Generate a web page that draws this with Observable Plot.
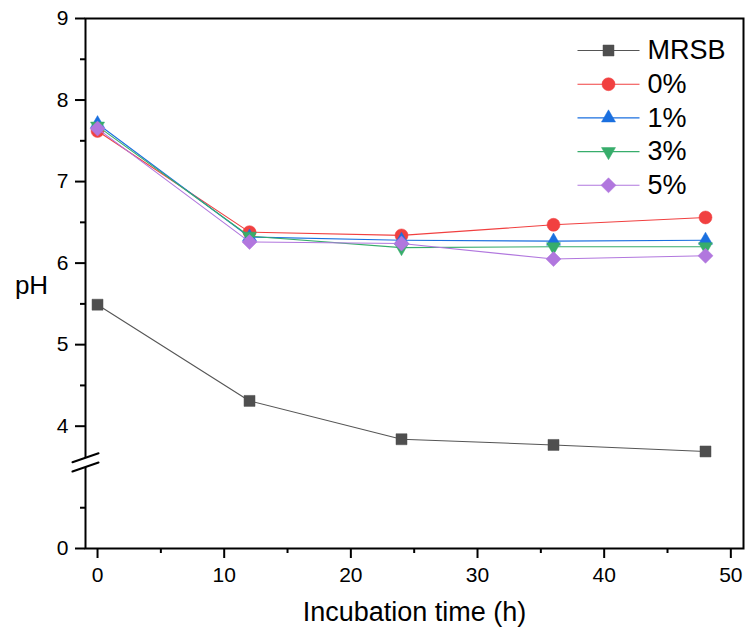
<!DOCTYPE html>
<html><head><meta charset="utf-8">
<script src="https://cdn.jsdelivr.net/npm/d3@7"></script>
<script src="https://cdn.jsdelivr.net/npm/@observablehq/plot@0.6"></script>
<style>body{margin:0;background:#fff}</style>
</head><body><div id="chart"></div>
<script>
// ---- data ----
const hours = [0, 12, 24, 36, 48];
const seriesNames = ["MRSB", "0%", "1%", "3%", "5%"];
const phMRSB = [5.49, 4.31, 3.84, 3.77, 3.69];
const ph0 = [7.62, 6.38, 6.34, 6.47, 6.56];
const ph1 = [7.71, 6.32, 6.28, 6.27, 6.28];
const ph3 = [7.68, 6.33, 6.19, 6.20, 6.20];
const ph5 = [7.65, 6.26, 6.24, 6.05, 6.09];
const xMajorTicks = [0, 10, 20, 30, 40, 50];
const xMinorTicks = [5, 15, 25, 35, 45];
const yMajorTicks = [0, 4, 5, 6, 7, 8, 9];
const yMinorTicks = [0.5, 4.5, 5.5, 6.5, 7.5, 8.5];

// ---- styling ----
const colors = ["#4f4f4f", "#f14040", "#1a6fdf", "#37ad6b", "#b177de"];
const lineColors = ["#555555", "#f14040", "#1a6fdf", "#37ad6b", "#b177de"];
const symbols = ["square", "circle", "triangle", "triangle", "square"];
const rotations = [0, 0, 0, 180, 45];
const radii = [6.2, 6.5, 5.2, 5.2, 6.0];

// broken y axis: lower segment 0..1, upper segment 3.5..9
const br = v => (v >= 2 ? v - 2.5 : v);
const unbr = t => (t > 1.25 ? t + 2.5 : t);

const allSeries = [phMRSB, ph0, ph1, ph3, ph5];
const rows = allSeries.map((vals, i) =>
  hours.map((h, j) => ({series: seriesNames[i], hour: h, ph: vals[j], y: br(vals[j])}))
);

const lineSym = {draw(ctx) { ctx.moveTo(-31, 0); ctx.lineTo(31, 0); }};

const marks = [];
marks.push(Plot.frame({stroke: "black", strokeWidth: 2}));

// axis break marks (in transformed scale space)
const breakMid = 1.056, breakSlope = 0.111, breakGap = 0.057;
const brk = off => [{x: -1.98, y: breakMid - breakSlope / 2 + off}, {x: 0.08, y: breakMid + breakSlope / 2 + off}];
marks.push(Plot.line(brk(0), {x: "x", y: "y", stroke: "white", strokeWidth: 8}));
marks.push(Plot.line(brk(breakGap), {x: "x", y: "y", stroke: "black", strokeWidth: 2}));
marks.push(Plot.line(brk(-breakGap), {x: "x", y: "y", stroke: "black", strokeWidth: 2}));

rows.forEach((data, i) => {
  marks.push(Plot.line(data, {x: "hour", y: "y", stroke: lineColors[i], strokeWidth: 1.1}));
  marks.push(Plot.dot(data, {x: "hour", y: "y", symbol: symbols[i], rotate: rotations[i], r: radii[i], fill: colors[i], stroke: colors[i], strokeWidth: 0.5}));
});

// axes
const font = {fontSize: 21};
marks.push(Plot.axisX(xMajorTicks, {anchor: "bottom", tickSize: 10, tickPadding: 9, strokeWidth: 2, label: null, ...font}));
marks.push(Plot.axisX(xMinorTicks, {anchor: "bottom", tickSize: 5, strokeWidth: 2, label: null, tickFormat: () => ""}));
marks.push(Plot.axisY(yMajorTicks.map(br), {anchor: "left", tickSize: 10, tickPadding: 7, strokeWidth: 2, label: null, tickFormat: t => String(Math.round(unbr(t))), ...font}));
marks.push(Plot.axisY(yMinorTicks.map(br), {anchor: "left", tickSize: 5, strokeWidth: 2, label: null, tickFormat: () => ""}));

// axis titles
marks.push(Plot.text(["pH"], {frameAnchor: "left", lineAnchor: "middle", text: d => d, dx: -54, dy: 2, textAnchor: "middle", fontSize: 26}));
marks.push(Plot.text(["Incubation time (h)"], {frameAnchor: "bottom", lineAnchor: "middle", text: d => d, dy: 64, textAnchor: "middle", fontSize: 27}));

// legend
seriesNames.forEach((name, i) => {
  const dy = 32 + 33.7 * i;
  marks.push(Plot.dot([name], {frameAnchor: "top-left", dx: 523, dy, symbol: lineSym, stroke: lineColors[i], strokeWidth: 1.1, fill: "none"}));
  marks.push(Plot.dot([name], {frameAnchor: "top-left", dx: 523, dy, symbol: symbols[i], rotate: rotations[i], r: radii[i], fill: colors[i], stroke: colors[i], strokeWidth: 0.5}));
  marks.push(Plot.text([name], {frameAnchor: "top-left", lineAnchor: "middle", dx: 562, dy, text: d => d, textAnchor: "start", fontSize: 27}));
});

const chart = Plot.plot({
  width: 746,
  height: 631,
  marginLeft: 85,
  marginRight: 3,
  marginTop: 18,
  marginBottom: 83,
  x: {domain: [-0.95, 51]},
  y: {domain: [0, 6.5]},
  style: {fontFamily: "'Liberation Sans', Arial, sans-serif", fontSize: "21px", color: "black", background: "white", overflow: "visible"},
  marks
});
document.getElementById("chart").appendChild(chart);
</script>
</body></html>
